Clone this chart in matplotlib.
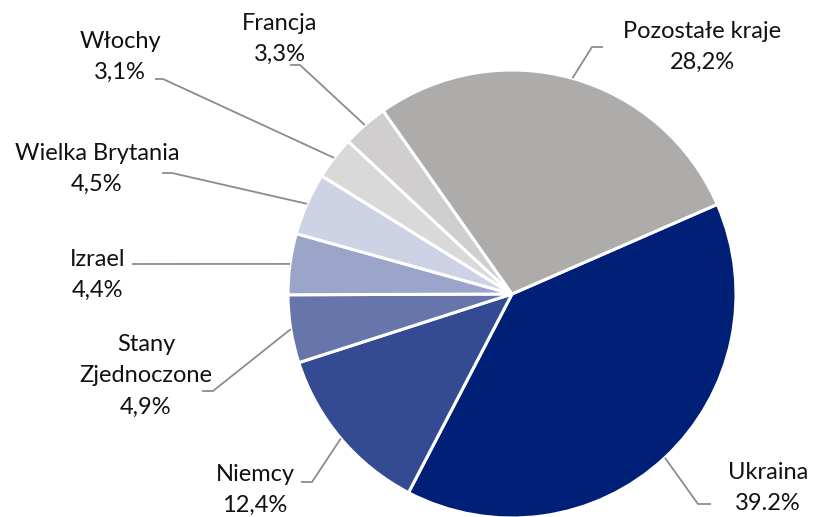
import numpy as np
from matplotlib import pyplot as plt

countries = ['Ukraina', 'Niemcy', 'Stany\nZjednoczone', 'Izrael', 'Wielka Brytania',
             'Włochy', 'Francja', 'Pozostałe kraje']
shares = [39.2, 12.4, 4.9, 4.4, 4.5, 3.1, 3.3, 28.2]
share_labels = ['39.2%', '12,4%', '4,9%', '4,4%', '4,5%', '3,1%', '3,3%', '28,2%']
colors = ['#001f77', '#344b94', '#6675aa', '#9aa5c9', '#cdd2e5', '#d9d9d9', '#d0cece', '#aeabab']

# layout in pixels of the 813x517 canvas: text centre, horizontal stub (x0, x1, y)
text_pos = [(768, 488), (255, 490), (146, 376), (98, 275), (97, 169),
            (120, 57), (280, 39), (702, 47)]
stubs = [(711, 698, 504), (301, 312, 482), (202, 213, 391), (132, 132, 264),
         (162, 172, 173), (155, 163, 79), (290, 300, 65), (603, 592, 47)]

W, H = 813, 517
CX, CY, R = 512, 294, 224


def px(x, y):
    return (x - CX) / R, (CY - y) / R


fig = plt.figure(figsize=(W / 100, H / 100), dpi=100)
ax = fig.add_axes([0, 0, 1, 1])
plt.rcParams['font.family'] = ['Lato', 'DejaVu Sans']

start = 23.6
wedges, _ = ax.pie(shares, colors=colors, startangle=start, counterclock=False,
                   radius=1, wedgeprops=dict(edgecolor='white', linewidth=2.2))

cum = np.cumsum([0] + shares)
for i, (name, lab) in enumerate(zip(countries, share_labels)):
    mid = np.deg2rad(start - 3.6 * (cum[i] + shares[i] / 2))
    ex, ey = np.cos(mid) * 1.0, np.sin(mid) * 1.0
    x0, x1, ys = stubs[i]
    a = px(x0, ys)
    b = px(x1, ys)
    ax.plot([a[0], b[0], ex], [a[1], b[1], ey], color='#8c8c8c', lw=1.3,
            solid_capstyle='butt')
    tx, ty = px(*text_pos[i])
    ax.text(tx, ty, f'{name}\n{lab}', ha='center', va='center', fontsize=17,
            linespacing=1.6, color='#111111')

ax.set_xlim(-CX / R, (W - CX) / R)
ax.set_ylim((CY - H) / R, CY / R)
ax.set_aspect('auto')
ax.axis('off')
fig.savefig('out.png', dpi=100)
